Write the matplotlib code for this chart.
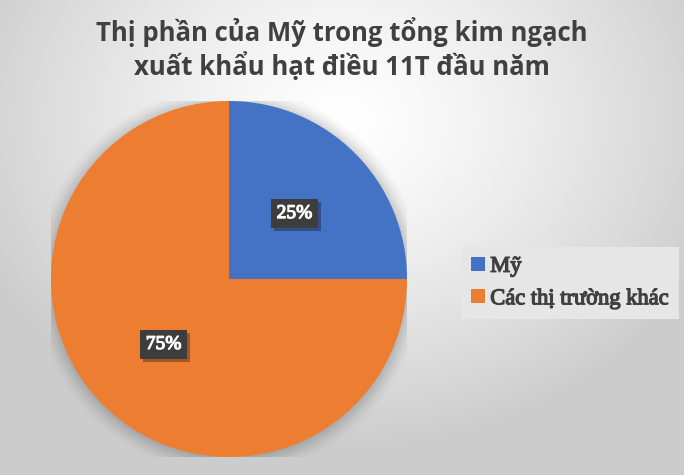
"""Pie chart: US share of Vietnam's cashew export value, first 11 months."""

import matplotlib.pyplot as plt
import matplotlib.patheffects as pe
from matplotlib.font_manager import FontProperties
import numpy as np

TITLE = "Thị phần của Mỹ trong tổng kim ngạch\nxuất khẩu hạt điều 11T đầu năm"
LABELS = ["Mỹ", "Các thị trường khác"]
SHARES = [25, 75]
COLORS = ["#4472C4", "#ED7D31"]

W, H = 684, 475


def background(fig):
    yy, xx = np.mgrid[0:H, 0:W]
    t = np.sqrt(((xx - 342) / 400.0) ** 2 + ((yy - 120) / 330.0) ** 2)
    t = np.clip(t, 0, 1) ** 1.3
    g = 1.0 - 0.2 * t
    bg = fig.add_axes([0, 0, 1, 1], zorder=-10)
    bg.imshow(np.dstack([g, g, g]), aspect="auto", extent=(0, W, H, 0))
    bg.set_axis_off()


def main():
    fig = plt.figure(figsize=(W / 100, H / 100), dpi=100)
    background(fig)

    cx, cy, r = 229, 279, 178
    ax = fig.add_axes([(cx - r) / W, (H - cy - r) / H, 2 * r / W, 2 * r / H])

    # soft shadow around the pie
    for k, a in zip(np.linspace(1.09, 1.0, 10), np.linspace(0.01, 0.06, 10)):
        ax.add_patch(plt.Circle((0.0, -0.01), k, color="#606060", alpha=a, lw=0, zorder=0))

    wedges, _, autotexts = ax.pie(
        SHARES,
        colors=COLORS,
        startangle=90,
        counterclock=False,
        autopct="%d%%",
        pctdistance=0.52,
        wedgeprops={"linewidth": 0, "zorder": 2},
    )
    serif = FontProperties(family="Liberation Serif", size=14)
    for t in autotexts:
        t.set_fontproperties(serif)
        t.set_color("white")
        t.set_zorder(5)
        # thicken the glyphs to look bold
        t.set_path_effects([pe.withStroke(linewidth=0.9, foreground="white")])
        t.set_bbox({"boxstyle": "square,pad=0.3", "facecolor": "#3d3d3d",
                    "edgecolor": "none",
                    "path_effects": [pe.SimplePatchShadow(offset=(2, -2), alpha=0.35),
                                     pe.Normal()]})
    ax.set_xlim(-1, 1)
    ax.set_ylim(-1, 1)
    ax.set_axis_off()

    fig.text(0.5, 1 - 49 / H, TITLE, ha="center", va="center", fontsize=18.5,
             fontweight="bold", color="#404040", family="Open Sans", linespacing=1.25)

    leg = fig.legend(
        wedges, LABELS,
        loc="center left",
        bbox_to_anchor=(461 / W, 1 - 283 / H),
        frameon=True,
        fancybox=False,
        facecolor="#e6e6e6",
        edgecolor="none",
        framealpha=1,
        handlelength=0.6,
        handleheight=0.6,
        handletextpad=0.25,
        labelspacing=0.55,
        borderpad=0.45,
        borderaxespad=0,
        prop={"family": "Liberation Serif", "size": 16.2},
    )
    for txt in leg.get_texts():
        txt.set_color("#404040")
        txt.set_path_effects([pe.withStroke(linewidth=0.9, foreground="#404040")])

    fig.savefig("out.png", dpi=100)
    plt.close(fig)


if __name__ == "__main__":
    main()
